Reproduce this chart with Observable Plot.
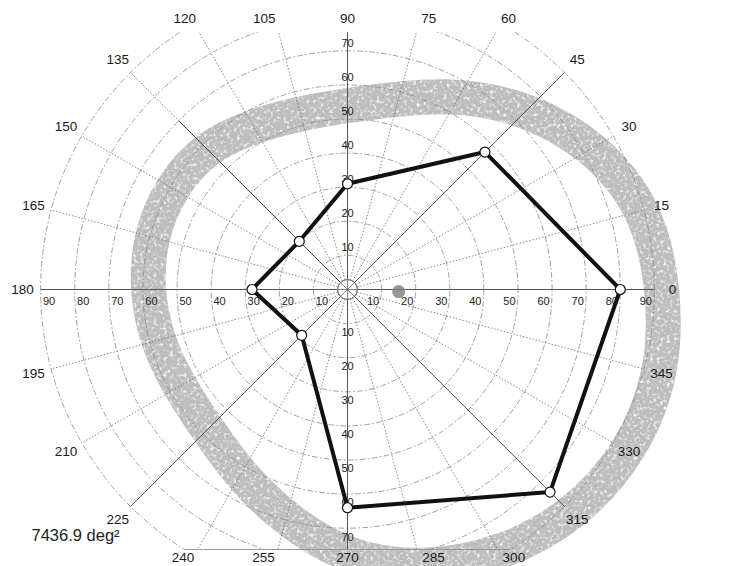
<!DOCTYPE html>
<html>
<head>
<meta charset="utf-8">
<script src="https://cdn.jsdelivr.net/npm/d3@7"></script>
<script src="https://cdn.jsdelivr.net/npm/@observablehq/plot@0.6"></script>
<style>
  html, body { margin: 0; padding: 0; background: #fff; }
  #chart { width: 736px; height: 566px; }
  svg { font-family: "Liberation Sans", Arial, sans-serif; }
</style>
</head>
<body>
<div id="chart"></div>
<script>
// ---- data (degrees of visual field) ----
const isopterAngles = [0, 45, 90, 135, 180, 225, 270, 315];
const isopterValues = [80, 57, 31, 20, 28, 19, 64, 84];

const normalBandAngles = [0, 15, 30, 45, 60, 75, 90, 105, 120, 135, 150, 165, 180, 195, 210, 225, 240, 255, 270, 285, 300, 315, 330, 345];
const normalBandRadius = [93, 91, 84, 75, 66, 58, 54, 53.5, 55.5, 59, 60, 60, 59, 58, 57, 58, 63, 70, 79, 85, 90, 94, 96, 96];

const meridianAngles = [0, 15, 30, 45, 60, 75, 90, 105, 120, 135, 150, 165, 180, 195, 210, 225, 240, 255, 270, 285, 300, 315, 330, 345];
const solidMeridians = [45, 225, 315];
const axisMeridians = [0, 90, 180, 270];
const ringValues = [10, 20, 30, 40, 50, 60, 70, 80, 90];
const horizontalTicks = [10, 20, 30, 40, 50, 60, 70, 80, 90];
const verticalTicks = [10, 20, 30, 40, 50, 60, 70];
const blindSpot = {x: 15, y: -0.6};
const areaLabel = "7436.9 deg\u00B2";

// ---- geometry helpers ----
const rad = Math.PI / 180;
const pxPerDeg = 3.41;
const cx = 347, cy = 289, W = 736, H = 566, frameTop = 32, frameBottom = 549;
const xDomain = [-cx / pxPerDeg, (W - cx) / pxPerDeg];
const yDomain = [-(frameBottom - cy) / pxPerDeg, (cy - frameTop) / pxPerDeg];
const yTopLabel = (cy - 18) / pxPerDeg, yBotLabel = -(557 - cy) / pxPerDeg;
const P = (a, r) => ({x: r * Math.cos(a * rad), y: r * Math.sin(a * rad)});

const isopter = isopterAngles.map((a, i) => ({a, r: isopterValues[i], ...P(a, isopterValues[i])}));
const band = normalBandAngles.map((a, i) => P(a, normalBandRadius[i]));

const rings = ringValues.flatMap(r => d3.range(0, 361, 2).map(t => ({ring: r, ...P(t, r)})));
const meridians = meridianAngles.map(a => { const e = P(a, 90); return {a, x1: 0, y1: 0, x2: e.x, y2: e.y}; });
const m135 = meridians.filter(m => m.a === 135)[0];

const labelR = 95.3;
const labels = meridianAngles.map(a => {
  const s = Math.sin(a * rad), c = Math.cos(a * rad);
  if (Math.abs(labelR * s) <= 77) return {a, kind: "radial", x: labelR * c, y: labelR * s};
  const yEdge = s > 0 ? yDomain[1] : yDomain[0];
  const xEnd = Math.abs(c) < 1e-6 ? 0 : yEdge * c / s;
  const side = Math.abs(c) < 1e-6 ? "mid" : (c > 0 ? "right" : "left");
  return {a, kind: side, x: xEnd, y: s > 0 ? yTopLabel : yBotLabel};
});

const hLabels = horizontalTicks.flatMap(k => [{t: k, x: k - 2.5, y: -2.4}, {t: k, x: -(k - 2.5), y: -2.4}]);
const vLabels = verticalTicks.flatMap(k => [{t: k, x: 0, y: k + 2.2}, {t: k, x: 0, y: -(k + 2.6)}]);
const chordHalf = Math.sqrt(90 * 90 - yDomain[0] * yDomain[0]);
const spokes = [0, 45, 90, 135, 180, 225, 270, 315].map(a => { const e = P(a, 2.9); return {x1: 0, y1: 0, x2: e.x, y2: e.y}; });

const chart = Plot.plot({
  width: W, height: H,
  marginTop: frameTop, marginBottom: H - frameBottom, marginLeft: 0, marginRight: 0,
  x: {domain: xDomain, axis: null},
  y: {domain: yDomain, axis: null},
  style: {background: "#fff", fontFamily: "Liberation Sans, Arial, sans-serif"},
  marks: [
    // normal range band
    Plot.line(band, {x: "x", y: "y", curve: "basis-closed", stroke: "#bdbdbd", strokeWidth: 35}),
    Plot.line(band, {x: "x", y: "y", curve: "basis-closed", stroke: "#ffffff", strokeWidth: 35, className: "speckle"}),
    // rings
    Plot.line(rings, {x: "x", y: "y", z: "ring", stroke: "#8a8a8a", strokeWidth: 0.8, strokeDasharray: "5,3,1,3", clip: true}),
    // dotted meridians
    Plot.link(meridians.filter(m => !solidMeridians.includes(m.a) && !axisMeridians.includes(m.a)),
      {x1: "x1", y1: "y1", x2: "x2", y2: "y2", stroke: "#6a6a6a", strokeWidth: 0.8, strokeDasharray: "1.5,1.8", clip: true}),
    // solid meridians
    Plot.link(meridians.filter(m => solidMeridians.includes(m.a)),
      {x1: "x1", y1: "y1", x2: "x2", y2: "y2", stroke: "#555", strokeWidth: 1, clip: true}),
    Plot.link([m135], {x1: "x1", y1: "y1", x2: d => d.x2 * 70 / 90, y2: d => d.y2 * 70 / 90, stroke: "#444", strokeWidth: 1}),
    Plot.link(meridians.filter(m => axisMeridians.includes(m.a)),
      {x1: "x1", y1: "y1", x2: "x2", y2: "y2", stroke: "#555", strokeWidth: 1, clip: true}),
    Plot.ruleY([yDomain[0]], {x1: -chordHalf, x2: chordHalf, stroke: "#999", strokeWidth: 1}),
    // fixation target
    Plot.dot([{x: 0, y: 0}], {x: "x", y: "y", r: 2.9 * pxPerDeg, stroke: "#555", fill: "#fff", strokeWidth: 1}),
    Plot.link(spokes, {x1: "x1", y1: "y1", x2: "x2", y2: "y2", stroke: "#666", strokeWidth: 0.8}),
    // blind spot
    Plot.dot([blindSpot], {x: "x", y: "y", r: 6.5, fill: "#7d7d7d", fillOpacity: 0.8}),
    // axis numbers
    Plot.text(hLabels, {x: "x", y: "y", text: "t", fontSize: 11, fill: "#222", lineAnchor: "top"}),
    Plot.text(vLabels, {x: "x", y: "y", text: "t", fontSize: 11, fill: "#222"}),
    // isopter
    Plot.line(isopter, {x: "x", y: "y", curve: "linear-closed", stroke: "#111", strokeWidth: 4}),
    Plot.dot(isopter, {x: "x", y: "y", r: 5, fill: "#fff", stroke: "#111", strokeWidth: 1.2}),
    // meridian labels
    Plot.text(labels.filter(d => d.kind === "radial" || d.kind === "mid"), {x: "x", y: "y", text: "a", fontSize: 13.5, fill: "#1a1a1a"}),
    Plot.text(labels.filter(d => d.kind === "right"), {x: "x", y: "y", text: "a", fontSize: 13.5, fill: "#1a1a1a", textAnchor: "start", dx: 5}),
    Plot.text(labels.filter(d => d.kind === "left"), {x: "x", y: "y", text: "a", fontSize: 13.5, fill: "#1a1a1a", textAnchor: "end", dx: -3}),
    // area
    Plot.text([areaLabel], {frameAnchor: "bottom-left", text: d => d, dx: 31, dy: -9, fontSize: 16.5, fill: "#222", textAnchor: "start"})
  ]
});

// texture for the band
const svgNS = "http://www.w3.org/2000/svg";
const defs = document.createElementNS(svgNS, "defs");
defs.innerHTML = `<filter id="speckleFilter" x="-5%" y="-5%" width="110%" height="110%">
  <feTurbulence type="fractalNoise" baseFrequency="0.3" numOctaves="3" seed="7" result="noise"/>
  <feColorMatrix in="noise" type="matrix" values="0 0 0 0 1  0 0 0 0 1  0 0 0 0 1  3.0 0 0 0 -1.55" result="spots"/>
  <feComposite in="spots" in2="SourceAlpha" operator="in"/>
</filter>`;
chart.insertBefore(defs, chart.firstChild);
chart.querySelectorAll(".speckle path").forEach(p => p.setAttribute("filter", "url(#speckleFilter)"));

document.getElementById("chart").appendChild(chart);
</script>
</body>
</html>
